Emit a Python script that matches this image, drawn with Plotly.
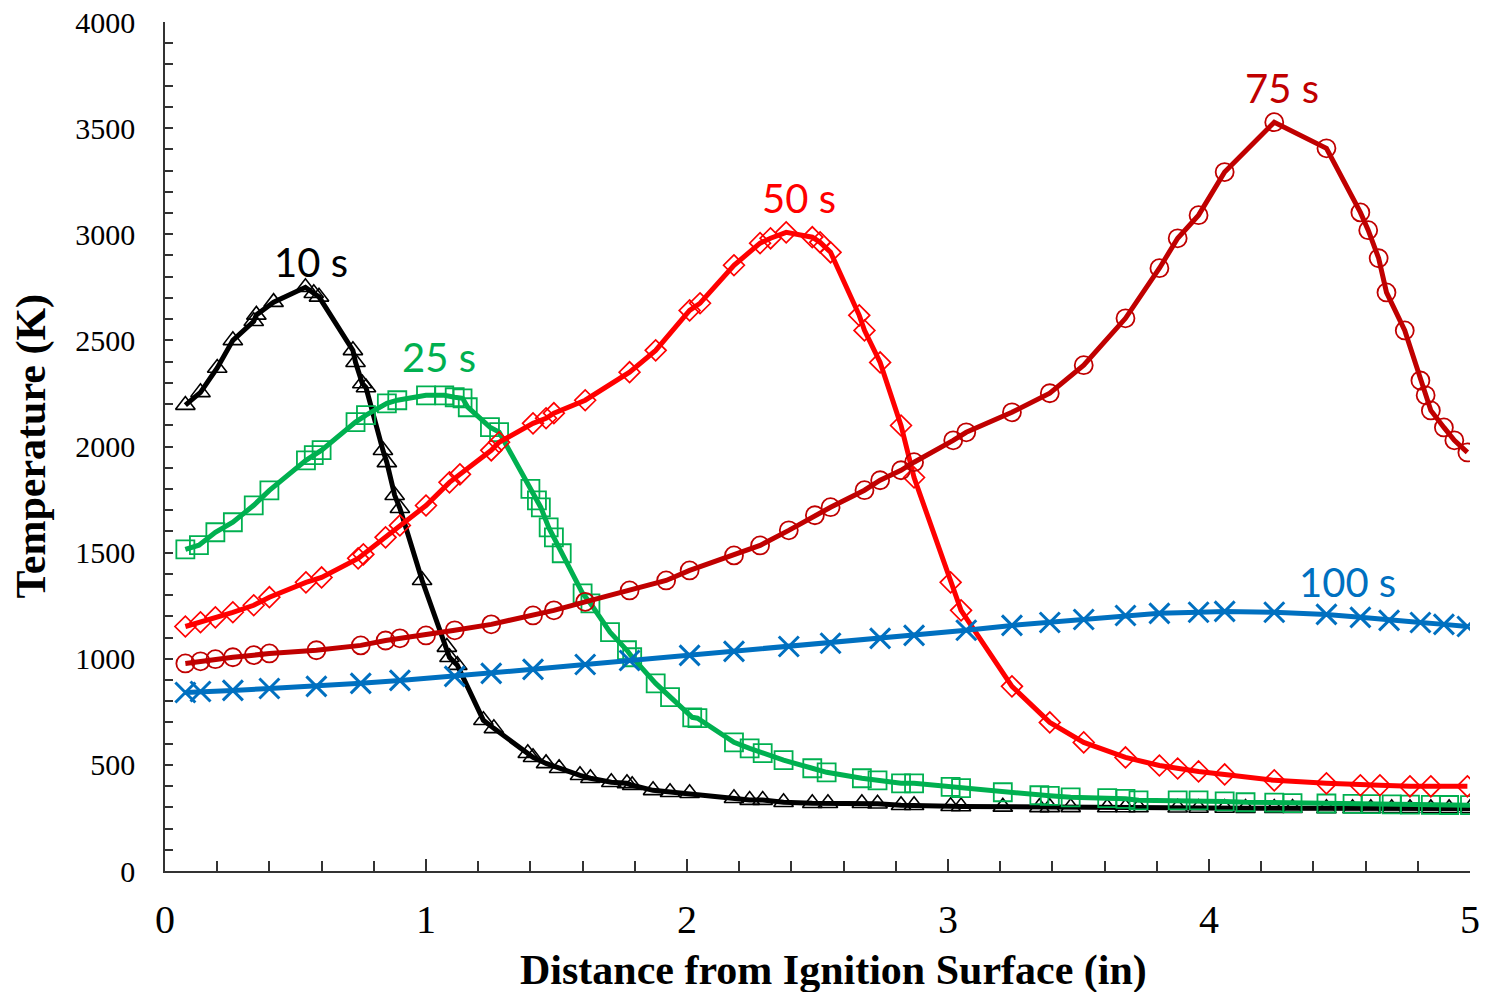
import plotly.graph_objects as go

# ---- data ----
black_x = [0.078,0.136,0.20,0.26,0.34,0.35,0.416,0.538,0.57,0.59,0.72,0.73,0.756,0.77,0.835,0.85,0.88,0.90,0.985,1.08,1.09,1.12,1.22,1.26,1.39,1.41,1.46,1.51,1.59,1.63,1.71,1.77,1.79,1.87,1.935,2.01,2.18,2.24,2.29,2.37,2.48,2.54,2.67,2.73,2.82,2.87,3.01,3.05,3.21,3.35,3.39,3.47,3.61,3.68,3.73,3.88,3.96,4.06,4.14,4.25,4.32,4.45,4.55,4.62,4.70,4.77,4.85,4.92,5.0]
black_y = [2195,2255,2370,2500,2590,2620,2680,2750,2722,2705,2453,2397,2297,2278,1982,1925,1770,1709,1370,1055,1007,970,710,672,555,536,507,484,451,437,418,413,404,380,371,366,343,334,334,324,319,319,319,317,310,310,305,304,302,300,300,300,299,299,299,298,297,297,296,296,296,295,295,295,295,295,295,295,295]

green_x = [0.078,0.13,0.193,0.26,0.34,0.40,0.54,0.57,0.60,0.73,0.77,0.85,0.89,1.0,1.07,1.11,1.14,1.16,1.245,1.28,1.40,1.425,1.44,1.47,1.49,1.52,1.60,1.63,1.705,1.77,1.79,1.88,1.935,2.02,2.04,2.18,2.24,2.29,2.37,2.48,2.535,2.67,2.73,2.82,2.87,3.01,3.05,3.21,3.35,3.39,3.47,3.61,3.68,3.73,3.88,3.96,4.06,4.14,4.25,4.32,4.45,4.55,4.62,4.70,4.77,4.85,4.92,5.0]
green_y = [1515,1535,1596,1643,1723,1793,1935,1959,1983,2115,2148,2203,2218,2241,2241,2232,2227,2185,2091,2068,1800,1746,1713,1619,1572,1497,1308,1261,1125,1040,1007,884,819,724,720,606,578,555,522,484,465,437,427,413,413,396,390,371,357,354,347,343,340,333,333,333,328,324,322,320,318,316,315,314,313,312,311,310]

red_x = [0.078,0.136,0.193,0.26,0.34,0.40,0.54,0.60,0.74,0.76,0.845,0.90,1.0,1.09,1.13,1.25,1.28,1.41,1.46,1.49,1.61,1.78,1.88,2.01,2.05,2.18,2.28,2.32,2.38,2.48,2.51,2.55,2.66,2.68,2.74,2.82,2.87,3.01,3.05,3.245,3.39,3.52,3.68,3.81,3.88,3.96,4.06,4.25,4.45,4.58,4.655,4.77,4.85,4.99]
red_y = [1152,1172,1195,1219,1252,1290,1360,1383,1473,1492,1572,1628,1722,1831,1869,1982,2020,2109,2133,2157,2218,2350,2453,2641,2675,2854,2958,2981,3009,2986,2962,2915,2618,2547,2396,2099,1854,1360,1228,870,700,606,535,497,483,469,455,427,413,404,404,399,399,399]

dred_x = [0.078,0.136,0.193,0.26,0.34,0.40,0.58,0.75,0.845,0.90,1.0,1.11,1.25,1.41,1.49,1.61,1.78,1.92,2.01,2.18,2.28,2.39,2.49,2.55,2.68,2.74,2.82,2.87,3.02,3.07,3.245,3.39,3.52,3.68,3.81,3.88,3.96,4.06,4.25,4.45,4.58,4.61,4.65,4.68,4.75,4.81,4.83,4.85,4.90,4.94,4.99]
dred_y = [978,988,998,1007,1017,1025,1040,1063,1086,1096,1110,1134,1162,1204,1228,1268,1322,1369,1416,1487,1534,1605,1676,1714,1794,1841,1888,1926,2029,2067,2161,2251,2383,2604,2840,2981,3090,3293,3528,3405,3103,3019,2887,2726,2547,2311,2241,2170,2090,2029,1972]

blue_x = [0.078,0.136,0.26,0.40,0.58,0.75,0.90,1.11,1.25,1.41,1.61,1.78,2.01,2.18,2.39,2.55,2.74,2.87,3.07,3.245,3.39,3.52,3.68,3.81,3.96,4.06,4.25,4.45,4.58,4.69,4.81,4.90,4.99]
blue_y = [841,846,851,860,870,884,898,917,931,950,973,992,1016,1035,1058,1073,1096,1110,1134,1157,1171,1185,1204,1214,1219,1223,1219,1209,1195,1181,1171,1162,1152]

series_names = ["10 s", "25 s", "50 s", "75 s", "100 s"]
series_colors = ["#000000", "#00B050", "#FF0000", "#C00000", "#0070C0"]
series_symbols = ["triangle-up-open", "square-open", "diamond-open", "circle-open", "x-thin-open"]
series_msize = [17, 18, 16, 18, 20]
series_mline = [1.6, 1.8, 1.7, 1.8, 3.0]
label_x = [0.56, 1.05, 2.43, 4.28, 4.53]
label_y = [2870, 2420, 3170, 3690, 1360]

xs = [black_x, green_x, red_x, dred_x, blue_x]
ys = [black_y, green_y, red_y, dred_y, blue_y]

fig = go.Figure()
for i in range(5):
    fig.add_trace(go.Scatter(
        x=xs[i], y=ys[i], mode="lines+markers", name=series_names[i],
        line=dict(color=series_colors[i], width=5),
        marker=dict(symbol=series_symbols[i], size=series_msize[i],
                    color=series_colors[i],
                    line=dict(color=series_colors[i], width=series_mline[i])),
        showlegend=False,
    ))

annotations = []
for i in range(5):
    annotations.append(dict(x=label_x[i], y=label_y[i], xref="x", yref="y",
                            text=series_names[i], showarrow=False,
                            font=dict(family="Lato", size=40, color=series_colors[i])))
annotations.append(dict(x=0.512, y=-0.117, xref="paper", yref="paper",
                        text="<b>Distance from Ignition Surface (in)</b>", showarrow=False,
                        font=dict(family="Liberation Serif", size=42, color="#000"),
                        xanchor="center", yanchor="middle"))
annotations.append(dict(x=-0.102, y=0.5, xref="paper", yref="paper",
                        text="<b>Temperature (K)</b>", showarrow=False, textangle=-90,
                        font=dict(family="Liberation Serif", size=42, color="#000"),
                        xanchor="center", yanchor="middle"))

fig.update_layout(
    width=1485, height=992,
    margin=dict(l=164.5, r=14.5, t=22, b=121, autoexpand=False),
    paper_bgcolor="white", plot_bgcolor="white",
    annotations=annotations,
    xaxis=dict(range=[0, 5], tickvals=[0, 1, 2, 3, 4, 5], ticks="inside", ticklen=12,
               tickwidth=1.5, tickcolor="#333", showline=True, linecolor="#333", linewidth=1.5,
               showgrid=False, zeroline=False, automargin=False,
               tickfont=dict(family="Liberation Serif", size=40, color="#000"),
               ticklabelstandoff=12,
               minor=dict(dtick=0.2, ticks="inside", ticklen=10, tickwidth=1.5, tickcolor="#333", showgrid=False)),
    yaxis=dict(range=[0, 4000], tickvals=[0, 500, 1000, 1500, 2000, 2500, 3000, 3500, 4000],
               ticks="inside", ticklen=8, tickwidth=1.5, tickcolor="#333",
               showline=True, linecolor="#333", linewidth=1.5,
               showgrid=False, zeroline=False, automargin=False,
               tickfont=dict(family="Liberation Serif", size=30, color="#000"),
               ticklabelstandoff=22,
               minor=dict(dtick=100, ticks="inside", ticklen=8, tickwidth=1.5, tickcolor="#333", showgrid=False)),
)

fig.write_html("out.html")
